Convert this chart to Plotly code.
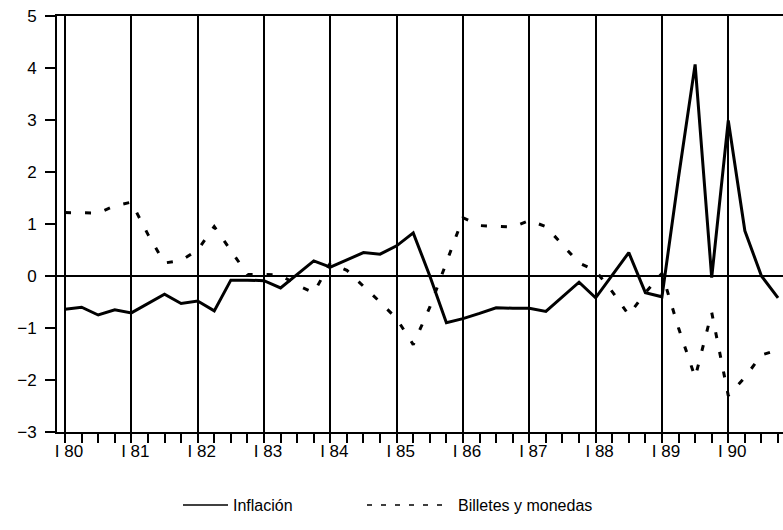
import plotly.graph_objects as go

# Quarterly periods 1980 Q1 .. 1990 Q4
years = list(range(1980, 1991))
quarters = [1, 2, 3, 4]
periods = [(y, q) for y in years for q in quarters]
x_vals = [y + (q - 1) / 4 for (y, q) in periods]

inflacion = [
    -0.64, -0.60, -0.75, -0.65,   # 1980
    -0.71, -0.53, -0.35, -0.53,   # 1981
    -0.48, -0.67, -0.08, -0.08,   # 1982
    -0.09, -0.23, 0.03, 0.29,     # 1983
    0.17, 0.31, 0.45, 0.42,       # 1984
    0.58, 0.83, 0.00, -0.90,      # 1985
    -0.82, -0.72, -0.61, -0.62,   # 1986
    -0.62, -0.68, -0.40, -0.12,   # 1987
    -0.42, 0.02, 0.45, -0.32,     # 1988
    -0.40, 1.90, 4.07, -0.03,     # 1989
    2.99, 0.87, 0.00, -0.42,      # 1990
]

billetes = [
    1.22, 1.21, 1.21, 1.35,       # 1980
    1.42, 0.80, 0.25, 0.30,       # 1981
    0.50, 0.95, 0.50, 0.03,       # 1982
    0.03, 0.02, -0.18, -0.32,     # 1983
    0.25, 0.11, -0.20, -0.50,     # 1984
    -0.82, -1.32, -0.60, 0.25,    # 1985
    1.12, 0.97, 0.96, 0.94,       # 1986
    1.07, 0.95, 0.60, 0.25,       # 1987
    0.10, -0.30, -0.75, -0.32,    # 1988
    0.05, -1.00, -1.95, -0.70,    # 1989
    -2.30, -1.95, -1.52, -1.42,   # 1990
]

tick_labels = ["I " + str(y)[2:] for y in years]
y_ticks = [-3, -2, -1, 0, 1, 2, 3, 4, 5]

legend_names = ["Inflación", "Billetes y monedas"]

FONT = "Liberation Sans, Arial, Helvetica, sans-serif"

fig = go.Figure()
fig.add_trace(go.Scatter(
    x=x_vals, y=inflacion, mode="lines", name=legend_names[0],
    line=dict(color="black", width=3), showlegend=False,
))
fig.add_trace(go.Scatter(
    x=x_vals, y=billetes, mode="lines", name=legend_names[1],
    line=dict(color="black", width=3, dash="6px,14px"), showlegend=False,
))

W, H = 783, 530
L, R, T, B = 57, 0, 16, 98
pw = W - L - R
ph = H - T - B

def px_x(p):
    return (p - L) / pw

def px_y(p):
    return (H - B - p) / ph

# manual legend (key)
ly = px_y(505)
fig.add_shape(type="line", xref="paper", yref="paper",
              x0=px_x(183), x1=px_x(228), y0=ly, y1=ly,
              line=dict(color="black", width=1.5))
fig.add_annotation(xref="paper", yref="paper", x=px_x(231), y=ly,
                   text=legend_names[0], showarrow=False, xanchor="left",
                   yanchor="middle", font=dict(family=FONT, size=16, color="black"))
fig.add_shape(type="line", xref="paper", yref="paper",
              x0=px_x(367), x1=px_x(447), y0=ly, y1=ly,
              line=dict(color="black", width=1.5, dash="5px,9px"))
fig.add_annotation(xref="paper", yref="paper", x=px_x(456), y=ly,
                   text=legend_names[1], showarrow=False, xanchor="left",
                   yanchor="middle", font=dict(family=FONT, size=16, color="black"))

fig.update_layout(
    width=W, height=H,
    margin=dict(l=L, r=R, t=T, b=B, pad=0),
    plot_bgcolor="white", paper_bgcolor="white",
    font=dict(family=FONT, size=17, color="black"),
)

fig.update_xaxes(
    range=[1979.879, 1990.825],
    tickmode="array", tickvals=years, ticktext=tick_labels,
    ticks="outside", ticklen=9, tickwidth=2, tickcolor="black",
    ticklabelshift=4, ticklabelstandoff=-6,
    showgrid=True, gridcolor="black", gridwidth=2,
    showline=True, linecolor="black", linewidth=2, mirror=True,
    zeroline=False,
    minor=dict(dtick=0.25, tick0=1980, ticks="outside", ticklen=9,
               tickwidth=2, tickcolor="black", showgrid=False),
    tickfont=dict(family=FONT, size=17, color="black"),
)
fig.update_yaxes(
    range=[-3, 5], tickmode="array", tickvals=y_ticks,
    ticks="outside", ticklen=10, tickwidth=2, tickcolor="black",
    ticklabelstandoff=5, ticklabeloverflow="allow",
    showgrid=False, showline=True, linecolor="black", linewidth=2,
    zeroline=True, zerolinecolor="black", zerolinewidth=1.5,
    tickfont=dict(family=FONT, size=17, color="black"),
)

fig.write_html(
    "out.html",
    config={"displayModeBar": False},
    post_script="document.body.style.margin='0';document.body.style.overflow='hidden';",
)
